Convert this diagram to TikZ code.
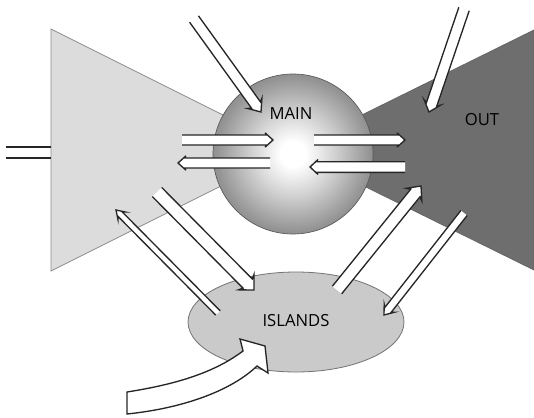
\documentclass[tikz,border=0pt]{standalone}
\usepackage{fontspec}
\setmainfont{Open Sans}
\usetikzlibrary{calc,shapes.geometric}

% soft ball shading for the central sphere
\pgfdeclareradialshading{ballshade}{\pgfpoint{0bp}{0bp}}{%
  color(0bp)=(white); color(4bp)=(white); color(13bp)=(black!18);
  color(24bp)=(black!42); color(36bp)=(black!58); color(45bp)=(black!70);
  color(50bp)=(black!80)}

\definecolor{lightregion}{HTML}{DCDCDC}
\definecolor{darkregion}{HTML}{6E6E6E}
\definecolor{islandfill}{HTML}{CACACA}

\tikzset{
  arrowedge/.style={draw=black!85, line width=1pt, line join=miter},
  regionlabel/.style={font=\fontsize{12.5}{14}\selectfont, text=black, inner sep=0pt},
}

% hollow block arrow: #1 tail, #2 tip, #3 half shaft width,
% #4 half head width, #5 head length (tail end left open)
\newcommand\fatarrow[5]{%
  \path ($(#2)!#5!(#1)$) coordinate (fa-s)
        ($(fa-s)!1.5pt!(#1)$) coordinate (fa-b)
        ($(#1)!#3!90:(#2)$) coordinate (fa-t1)
        ($(#1)!#3!-90:(#2)$) coordinate (fa-t2)
        ($(fa-s)!#3!90:(#2)$) coordinate (fa-s1)
        ($(fa-s)!#3!-90:(#2)$) coordinate (fa-s2)
        ($(fa-b)!#4!90:(#2)$) coordinate (fa-w1)
        ($(fa-b)!#4!-90:(#2)$) coordinate (fa-w2);
  \fill[white] (fa-t1) -- (fa-s1) -- (fa-w1) -- (#2) -- (fa-w2) -- (fa-s2) -- (fa-t2) -- cycle;
  \draw[arrowedge] (fa-t1) -- (fa-s1) -- (fa-w1) -- (#2) -- (fa-w2) -- (fa-s2) -- (fa-t2);
}

\begin{document}
\begin{tikzpicture}[x=0.75pt, y=-0.75pt]
\useasboundingbox (0,0) rectangle (534,417);

% the two wedge-shaped regions
\filldraw[fill=lightregion, draw=black!45, line width=0.6pt]
  (51,29) -- (293,150) -- (51,271) -- cycle;
\filldraw[fill=darkregion, draw=black!60, line width=0.6pt]
  (534,30) -- (291,150) -- (534,270) -- cycle;

% feed tube on the left
\draw[arrowedge] (6,147) -- (51,147);
\draw[arrowedge] (6,158) -- (51,158);

% central sphere
\node[circle, minimum size=120pt, inner sep=0pt, shading=ballshade,
      draw=black!65, line width=0.5pt] (sphere) at (293,154) {};

% island
\node[ellipse, minimum width=162pt, minimum height=75pt, inner sep=0pt,
      fill=islandfill, draw=black!55, line width=0.6pt] (islands) at (296,322) {};

% labels
\node[regionlabel] (main) at (291,114) {MAIN};
\node[regionlabel] (out) at (482,120) {OUT};
\node[regionlabel] (islandslabel) at (296,321) {ISLANDS};

% arrow end points
\coordinate (inA) at (194,19);   \coordinate (inAtip) at (261,112);
\coordinate (inB) at (464,9);    \coordinate (inBtip) at (429,112);
\coordinate (h1) at (182,140);   \coordinate (h1tip) at (273,140);
\coordinate (h2) at (270,163);   \coordinate (h2tip) at (178,163);
\coordinate (h3) at (314,140);   \coordinate (h3tip) at (405,140);
\coordinate (h4) at (405,167);   \coordinate (h4tip) at (310,167);
\coordinate (d1) at (157,192);   \coordinate (d1tip) at (254,290);
\coordinate (d2) at (218,313);   \coordinate (d2tip) at (116,210);
\coordinate (d3) at (337,290);   \coordinate (d3tip) at (421,186);
\coordinate (d4) at (464,213);   \coordinate (d4tip) at (384,315);

\fatarrow{inA}{inAtip}{4.1pt}{6.6pt}{6.5pt}
\fatarrow{inB}{inBtip}{4.1pt}{6.4pt}{6pt}
\fatarrow{h1}{h1tip}{3.75pt}{5.4pt}{4.5pt}
\fatarrow{h2}{h2tip}{3.75pt}{5.4pt}{4.5pt}
\fatarrow{h3}{h3tip}{3.75pt}{5.4pt}{4.5pt}
\fatarrow{h4}{h4tip}{4pt}{5.6pt}{4.5pt}
\fatarrow{d1}{d1tip}{4.9pt}{8.2pt}{6.8pt}
\fatarrow{d2}{d2tip}{2.3pt}{3.9pt}{4.5pt}
\fatarrow{d3}{d3tip}{4.5pt}{7.5pt}{6.8pt}
\fatarrow{d4}{d4tip}{3pt}{4.9pt}{5pt}

% curved inflow into the island
\filldraw[fill=white, arrowedge]
  (127,392) .. controls (178,384) and (215,372) .. (243,351)
  -- (240,339) -- (265,346) -- (268,373) -- (257,366)
  .. controls (232,390) and (185,408) .. (127,414) -- cycle;
\end{tikzpicture}
\end{document}
